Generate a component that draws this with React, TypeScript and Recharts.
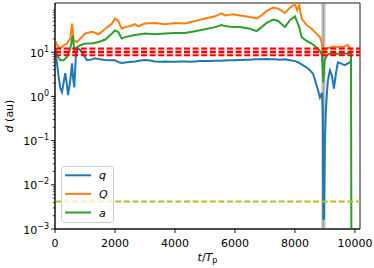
import React from 'react';
import { LineChart, Line, XAxis, YAxis, ReferenceArea, ReferenceLine, Legend } from 'recharts';

const qT = [0, 67, 123, 177, 233, 290, 343, 400, 433, 510, 567, 600, 643, 700, 757, 843, 957, 1067, 1200, 1343, 1500, 1650, 1843, 2000, 2123, 2233, 2400, 2500, 2667, 2850, 3000, 3167, 3333, 3500, 3667, 3833, 4000, 4167, 4333, 4500, 4667, 4833, 5000, 5167, 5333, 5500, 5667, 5833, 6000, 6167, 6333, 6500, 6667, 6833, 7000, 7167, 7333, 7500, 7667, 7833, 8000, 8083, 8167, 8250, 8333, 8417, 8500, 8600, 8667, 8767, 8833, 8900, 8930, 8945, 8970, 9000, 9033, 9067, 9100, 9167, 9233, 9300, 9367, 9433, 9533, 9600, 9667, 9767, 9833, 9867];
const qV = [12.3, 5.6, 2.7, 1.55, 1.25, 2.1, 3.35, 1.8, 1.07, 2.3, 5.6, 2.7, 1.6, 9.5, 12.3, 11.1, 8.6, 6.6, 6.8, 7.3, 6.9, 6.7, 6.6, 6.6, 5.9, 5.7, 5.9, 6.0, 6.2, 6.5, 6.7, 6.5, 6.2, 6.1, 6.2, 6.1, 6.1, 6.2, 6.2, 6.1, 6.2, 6.3, 6.3, 6.3, 6.4, 6.4, 6.5, 6.6, 6.6, 6.7, 6.8, 6.8, 6.9, 6.9, 7.0, 6.9, 6.9, 6.8, 6.9, 6.6, 6.3, 6.0, 5.6, 5.2, 4.8, 4.4, 3.9, 3.3, 2.4, 1.4, 0.95, 1.2, 0.48, 0.0017, 0.0017, 0.1, 0.48, 1.2, 2.3, 3.9, 3.0, 1.5, 3.3, 5.9, 5.6, 5.3, 5.1, 5.6, 5.9, 6.6];

const QT = [0, 67, 177, 290, 400, 510, 567, 623, 733, 843, 1010, 1233, 1457, 1677, 1900, 2000, 2110, 2223, 2333, 2500, 2667, 2767, 3000, 3333, 3667, 4000, 4333, 4667, 5000, 5333, 5557, 5667, 5933, 6167, 6500, 6723, 6890, 7057, 7277, 7443, 7667, 7833, 8000, 8077, 8143, 8223, 8390, 8557, 8723, 8833, 8900, 8943, 9000, 9057, 9100, 9200, 9300, 9400, 9500, 9600, 9700, 9767, 9833, 9880];
const QV = [18.7, 14.4, 12.1, 14.4, 15.7, 20.4, 44.5, 18.7, 17, 20.4, 26.5, 29, 25.5, 34, 44.5, 57.8, 51, 34, 37, 38.7, 43, 38.7, 44.5, 46, 43, 46, 44.5, 51, 58, 65, 76, 68, 72, 68, 63, 58, 68, 86, 102, 97, 77, 102, 122, 89, 115, 58, 41, 34, 26, 22, 16, 9.5, 11, 12, 12.5, 13, 13.5, 13, 13.5, 13, 14, 14.5, 12.5, 11];

const aT = [0, 67, 177, 290, 400, 510, 590, 643, 733, 843, 1010, 1233, 1457, 1677, 1900, 2000, 2110, 2223, 2333, 2667, 3000, 3333, 3667, 4000, 4333, 4667, 5000, 5333, 5557, 5667, 5933, 6167, 6500, 6723, 6890, 7057, 7277, 7443, 7667, 7833, 8000, 8077, 8143, 8223, 8390, 8557, 8723, 8833, 8900, 8950, 8990, 9067, 9150, 9300, 9500, 9700, 9870, 9890];
const aV = [13, 8.6, 6.6, 6.6, 7.8, 12, 24, 11, 13, 14.4, 15.7, 15.7, 17, 19.4, 26.5, 31, 28.8, 20.4, 22, 24.4, 26.5, 25.5, 26.5, 27.3, 27.3, 30, 33, 37, 41, 39, 37, 37, 34, 30, 37, 46, 55, 51, 37, 53, 65, 48, 37, 22, 18, 15.7, 12.8, 10.7, 8.6, 2.1, 6.6, 8.5, 9.2, 9.4, 9.2, 9.4, 9.3, 0.000001];

const xTicks = [0, 2000, 4000, 6000, 8000, 10000];
const yMajor = [0.001, 0.01, 0.1, 1, 10];
const yMinorFactors = [2, 3, 4, 5, 6, 7, 8, 9];
const redSolidLevels = [12.1, 10.15, 8.55];
const redPaleLevels = [11.1, 9.35];
const yellowLevel = 0.0042;
const grayBand = [8877, 9023];
const grayCenter = 8950;

const toRows = (t: number[], v: number[]) => t.map((x, i) => ({ t: x, v: v[i] }));
const qData = toRows(qT, qV);
const QData = toRows(QT, QV);
const aData = toRows(aT, aV);

const yTicks: number[] = [];
yMajor.forEach((m) => {
  yTicks.push(m);
  yMinorFactors.forEach((f) => yTicks.push(+(m * f).toPrecision(3)));
});

const FONT = 'DejaVu Sans';

const YTick = (props: any) => {
  const { x, y, payload } = props;
  const v = payload.value;
  const lg = Math.log10(v);
  const exp = Math.round(lg);
  const major = Math.abs(lg - exp) < 1e-6;
  return (
    <g>
      <line x1={x} x2={x - (major ? 4 : 2.3)} y1={y} y2={y} stroke="#000" strokeWidth={major ? 0.9 : 0.7} />
      {major && (
        <text x={x - 6} y={y + 4.5} textAnchor="end" fontSize={11} fill="#000" fontFamily={FONT}>
          <tspan>10</tspan>
          <tspan dy={-5} fontSize={8}>{exp < 0 ? '\u2212' + -exp : String(exp)}</tspan>
        </text>
      )}
    </g>
  );
};

const XLabel = () => (
  <text x={207.5} y={261} textAnchor="middle" fontSize={11} fill="#000" fontFamily={FONT}>
    <tspan fontStyle="italic">t</tspan>
    <tspan>/</tspan>
    <tspan fontStyle="italic">T</tspan>
    <tspan fontSize={8} dy={2}>p</tspan>
  </text>
);

const YLabel = () => (
  <text x={12.5} y={116} transform="rotate(-90, 12.5, 116)" textAnchor="middle" fontSize={11} fill="#000" fontFamily={FONT}>
    <tspan fontStyle="italic">d</tspan>
    <tspan> (au)</tspan>
  </text>
);

const legendItems = [
  { name: 'q', color: '#1f77b4' },
  { name: 'Q', color: '#ff7f0e' },
  { name: 'a', color: '#2ca02c' },
];

const LegendBox = () => (
  <svg width={53} height={57} style={{ display: 'block' }}>
    <rect x={0.5} y={0.5} width={52} height={56} rx={3} ry={3} fill="#ffffff" fillOpacity={0.8} stroke="#cccccc" strokeWidth={1} />
    {legendItems.map((it, i) => (
      <g key={it.name}>
        <line x1={4} x2={30} y1={9.3 + i * 18.6} y2={9.3 + i * 18.6} stroke={it.color} strokeWidth={2} />
        <text x={38} y={9.3 + i * 18.6 + 4} fontSize={11} fontStyle="italic" fill="#000" fontFamily={FONT}>{it.name}</text>
      </g>
    ))}
  </svg>
);

export default function App() {
  return (
    <div style={{ position: 'absolute', left: 0, top: 0 }}>
      <LineChart width={374} height={268} margin={{ top: 3, right: 14, left: 0, bottom: 0 }}>
        <XAxis
          dataKey="t"
          type="number"
          domain={[0, 10170]}
          allowDataOverflow
          ticks={xTicks}
          tickSize={4}
          tickMargin={6}
          height={39}
          stroke="#000"
          tick={{ fill: '#000', fontSize: 11, fontFamily: FONT }}
          tickLine={{ stroke: '#000', strokeWidth: 0.9 }}
          axisLine={{ stroke: '#000', strokeWidth: 0.9 }}
          label={XLabel}
        />
        <YAxis
          type="number"
          scale="log"
          domain={[0.001, 130]}
          allowDataOverflow
          ticks={yTicks}
          interval={0}
          width={55}
          tickSize={0}
          tickMargin={0}
          tickLine={false}
          tick={<YTick />}
          axisLine={{ stroke: '#000', strokeWidth: 0.9 }}
          label={YLabel}
        />
        <ReferenceArea x1={grayBand[0]} x2={grayBand[1]} y1={0.001} y2={130} fill="#c8c8c8" fillOpacity={0.9} stroke="none" ifOverflow="hidden" />
        <ReferenceLine x={grayCenter} stroke="#9e9e9e" strokeWidth={1.6} />
        <Line data={qData} dataKey="v" stroke="#1f77b4" strokeWidth={2} dot={false} isAnimationActive={false} />
        <Line data={QData} dataKey="v" stroke="#ff7f0e" strokeWidth={2} dot={false} isAnimationActive={false} />
        <Line data={aData} dataKey="v" stroke="#2ca02c" strokeWidth={2} dot={false} isAnimationActive={false} />
        {redPaleLevels.map((lv) => (
          <ReferenceLine key={'p' + lv} y={lv} stroke="#ff0000" strokeOpacity={0.35} strokeWidth={1.6} strokeDasharray="6 2.6" />
        ))}
        {redSolidLevels.map((lv) => (
          <ReferenceLine key={'r' + lv} y={lv} stroke="#ff0000" strokeWidth={2} strokeDasharray="6 2.6" />
        ))}
        <ReferenceLine y={yellowLevel} stroke="#bcbd22" strokeWidth={2} strokeDasharray="6 2.6" />
        <ReferenceArea x1={0} x2={10170} y1={0.001} y2={130} fill="none" stroke="#000" strokeWidth={0.9} />
        <Legend
          layout="horizontal"
          verticalAlign="middle"
          align="center"
          content={() => <LegendBox />}
          wrapperStyle={{ position: 'absolute', left: 61, top: 166, width: 53, height: 57, bottom: 'auto', right: 'auto' }}
        />
      </LineChart>
    </div>
  );
}
